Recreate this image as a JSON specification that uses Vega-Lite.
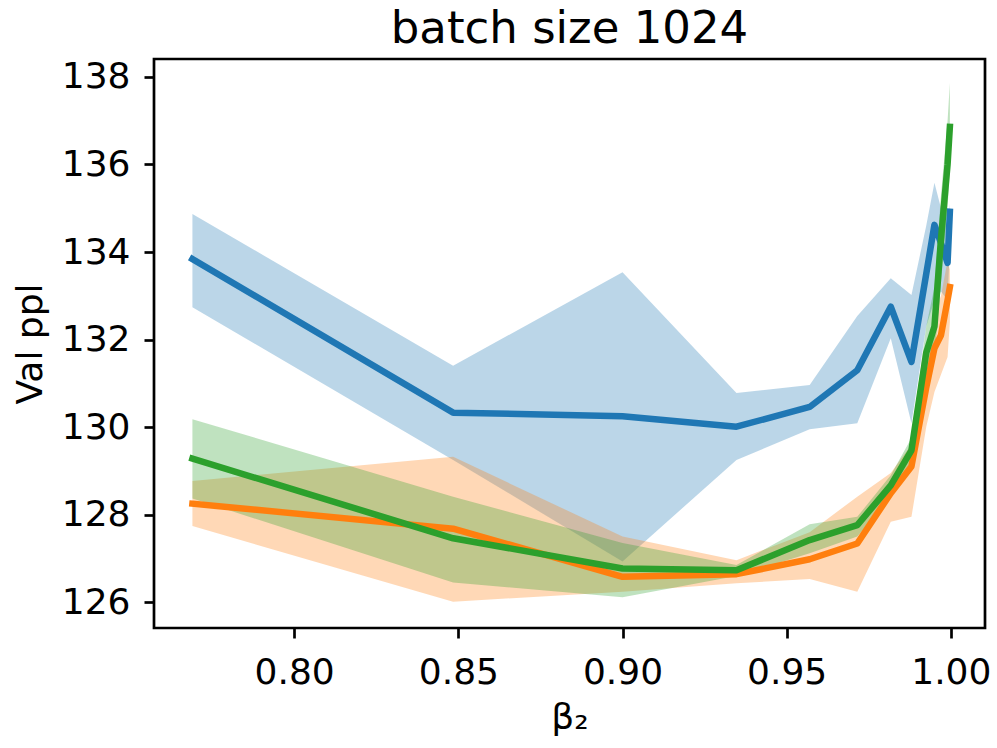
{
  "$schema": "https://vega.github.io/schema/vega-lite/v6.json",
  "autosize": {"type": "none"},
  "padding": {"left": 154, "top": 59, "right": 12, "bottom": 120},
  "width": 831,
  "height": 569,
  "config": {
    "font": "DejaVu Sans",
    "view": {"stroke": "black", "strokeWidth": 2.7},
    "axis": {
      "domain": false,
      "grid": false,
      "tickColor": "black",
      "tickWidth": 2.7,
      "tickSize": 10,
      "labelColor": "black",
      "titleColor": "black",
      "labelFontSize": 36,
      "titleFontSize": 36,
      "titleFontWeight": "normal",
      "labelFont": "DejaVu Sans",
      "titleFont": "DejaVu Sans"
    },
    "title": {"fontSize": 45, "fontWeight": "normal", "font": "DejaVu Sans", "color": "black", "offset": 7}
  },
  "title": {"text": "batch size 1024", "anchor": "middle", "frame": "group"},
  "data": {
    "values": [
      {"series": "A", "beta2": 0.769, "mean": 133.84, "lo": 132.74, "hi": 134.87},
      {"series": "A", "beta2": 0.8484, "mean": 130.33, "lo": 129.25, "hi": 131.40},
      {"series": "A", "beta2": 0.9, "mean": 130.25, "lo": 126.93, "hi": 133.54},
      {"series": "A", "beta2": 0.9347, "mean": 130.01, "lo": 129.25, "hi": 130.78},
      {"series": "A", "beta2": 0.957, "mean": 130.46, "lo": 129.95, "hi": 130.96},
      {"series": "A", "beta2": 0.9715, "mean": 131.30, "lo": 130.09, "hi": 132.54},
      {"series": "A", "beta2": 0.9817, "mean": 132.75, "lo": 132.03, "hi": 133.40},
      {"series": "A", "beta2": 0.988, "mean": 131.49, "lo": 130.09, "hi": 133.02},
      {"series": "A", "beta2": 0.9925, "mean": 133.5, "lo": 132.3, "hi": 134.6},
      {"series": "A", "beta2": 0.995, "mean": 134.62, "lo": 132.9, "hi": 135.58},
      {"series": "A", "beta2": 0.997, "mean": 134.2, "lo": 133.1, "hi": 135.0},
      {"series": "A", "beta2": 0.999, "mean": 133.75, "lo": 132.9, "hi": 134.6},
      {"series": "A", "beta2": 0.9997, "mean": 134.92, "lo": 134.1, "hi": 135.1},

      {"series": "B", "beta2": 0.769, "mean": 128.25, "lo": 127.74, "hi": 128.77},
      {"series": "B", "beta2": 0.8484, "mean": 127.68, "lo": 126.01, "hi": 129.32},
      {"series": "B", "beta2": 0.9, "mean": 126.58, "lo": 126.24, "hi": 127.5},
      {"series": "B", "beta2": 0.9347, "mean": 126.64, "lo": 126.43, "hi": 126.96},
      {"series": "B", "beta2": 0.957, "mean": 126.98, "lo": 126.53, "hi": 127.6},
      {"series": "B", "beta2": 0.9715, "mean": 127.34, "lo": 126.24, "hi": 128.41},
      {"series": "B", "beta2": 0.9817, "mean": 128.49, "lo": 127.84, "hi": 128.95},
      {"series": "B", "beta2": 0.988, "mean": 129.1, "lo": 127.95, "hi": 129.6},
      {"series": "B", "beta2": 0.9925, "mean": 130.9, "lo": 130.0, "hi": 131.6},
      {"series": "B", "beta2": 0.995, "mean": 131.8, "lo": 130.8, "hi": 132.6},
      {"series": "B", "beta2": 0.997, "mean": 132.1, "lo": 131.2, "hi": 133.0},
      {"series": "B", "beta2": 0.999, "mean": 132.9, "lo": 131.6, "hi": 133.8},
      {"series": "B", "beta2": 0.9997, "mean": 133.2, "lo": 132.4, "hi": 133.6},

      {"series": "C", "beta2": 0.769, "mean": 129.28, "lo": 128.37, "hi": 130.18},
      {"series": "C", "beta2": 0.8484, "mean": 127.46, "lo": 126.45, "hi": 128.41},
      {"series": "C", "beta2": 0.9, "mean": 126.77, "lo": 126.11, "hi": 127.35},
      {"series": "C", "beta2": 0.9347, "mean": 126.73, "lo": 126.6, "hi": 126.85},
      {"series": "C", "beta2": 0.957, "mean": 127.42, "lo": 127.12, "hi": 127.78},
      {"series": "C", "beta2": 0.9715, "mean": 127.76, "lo": 127.5, "hi": 127.95},
      {"series": "C", "beta2": 0.9817, "mean": 128.67, "lo": 128.4, "hi": 128.9},
      {"series": "C", "beta2": 0.988, "mean": 129.47, "lo": 129.1, "hi": 129.75},
      {"series": "C", "beta2": 0.9925, "mean": 131.7, "lo": 130.9, "hi": 132.3},
      {"series": "C", "beta2": 0.995, "mean": 132.3, "lo": 131.6, "hi": 133.2},
      {"series": "C", "beta2": 0.997, "mean": 134.3, "lo": 133.3, "hi": 135.3},
      {"series": "C", "beta2": 0.999, "mean": 136.0, "lo": 135.0, "hi": 137.0},
      {"series": "C", "beta2": 0.9997, "mean": 136.86, "lo": 135.9, "hi": 137.86}
    ]
  },
  "encoding": {
    "x": {
      "field": "beta2", "type": "quantitative",
      "scale": {"domain": [0.7573, 1.0104], "nice": false, "zero": false},
      "axis": {"title": "β₂", "values": [0.8, 0.85, 0.9, 0.95, 1.0], "format": ".2f", "labelPadding": 17, "titlePadding": 10, "labelFlush": false}
    },
    "color": {
      "field": "series", "type": "nominal",
      "scale": {"domain": ["A", "B", "C"], "range": ["#1f77b4", "#ff7f0e", "#2ca02c"]},
      "legend": null
    }
  },
  "layer": [
    {
      "mark": {"type": "area", "opacity": 0.3},
      "encoding": {
        "y": {
          "field": "lo", "type": "quantitative",
          "scale": {"domain": [125.41, 138.41], "nice": false, "zero": false},
          "axis": {"title": "Val ppl", "values": [126, 128, 130, 132, 134, 136, 138], "labelPadding": 14, "titlePadding": 12, "labelFlush": false}
        },
        "y2": {"field": "hi"}
      }
    },
    {
      "mark": {"type": "line", "strokeWidth": 6.5, "strokeCap": "square", "strokeJoin": "round"},
      "encoding": {
        "y": {"field": "mean", "type": "quantitative"}
      }
    }
  ]
}
